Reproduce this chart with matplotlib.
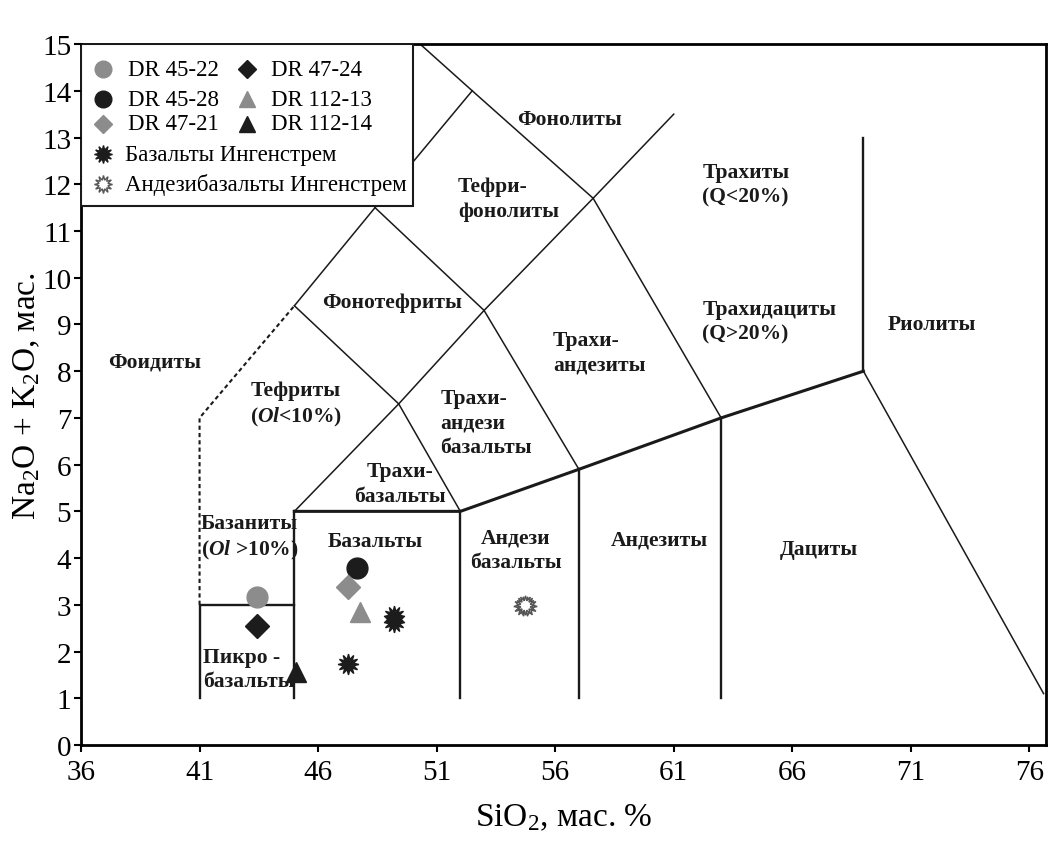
import matplotlib
matplotlib.use("Agg")
import matplotlib.pyplot as plt
from matplotlib.patches import Rectangle

plt.rcParams['font.family'] = ['Liberation Serif', 'DejaVu Serif']
plt.rcParams['mathtext.fontset'] = 'custom'
plt.rcParams['mathtext.rm'] = 'Liberation Serif'
plt.rcParams['mathtext.it'] = 'Liberation Serif:italic:bold'
plt.rcParams['mathtext.bf'] = 'Liberation Serif:bold'

# samples (SiO2, Na2O+K2O)
dr_names = ["DR 45-22", "DR 45-28", "DR 47-21", "DR 47-24", "DR 112-13", "DR 112-14"]
dr_x = [43.43, 47.65, 47.27, 43.43, 47.77, 45.07]
dr_y = [3.17, 3.79, 3.38, 2.55, 2.85, 1.56]
dr_marker = ["o", "o", "D", "D", "^", "^"]
dr_color = ["#8c8c8c", "#1c1c1c", "#8c8c8c", "#1c1c1c", "#8c8c8c", "#1c1c1c"]

bas_x = [49.2, 49.2, 47.27]
bas_y = [2.76, 2.64, 1.73]
andbas_x = [54.64, 54.82, 54.73]
andbas_y = [2.97, 2.97, 3.0]

# TAS field boundaries
thick_lines = [
    [(45, 5), (52, 5), (57, 5.9), (63, 7), (69, 8)],
]
mid_lines = [
    [(41, 1), (41, 3), (45, 3)],
    [(45, 1), (45, 5)],
    [(52, 1), (52, 5)],
    [(57, 1), (57, 5.9)],
    [(63, 1), (63, 7)],
    [(69, 8), (69, 13)],
]
thin_lines = [
    [(69, 8), (76.6, 1.1)],
    [(45, 5), (49.4, 7.3), (53, 9.3), (57.6, 11.7), (61, 13.5)],
    [(45, 9.4), (49.4, 7.3), (52, 5)],
    [(45, 9.4), (48.4, 11.5), (52.5, 14)],
    [(48.4, 11.5), (53, 9.3), (57, 5.9)],
    [(50.3, 15), (52.5, 14), (57.6, 11.7), (63, 7)],
]
dashed_lines = [
    [(41, 3), (41, 7), (45, 9.4)],
]

labels = [
    (39.1, 8.2, "Фоидиты", "center"),
    (49.1, 9.47, "Фонотефриты", "center"),
    (45.05, 7.3, "Тефриты\n($Ol$<10%)", "center"),
    (49.45, 5.6, "Трахи-\nбазальты", "center"),
    (51.15, 6.9, "Трахи-\nандези\nбазальты", "left"),
    (55.9, 8.4, "Трахи-\nандезиты", "left"),
    (51.9, 11.7, "Тефри-\nфонолиты", "left"),
    (56.6, 13.4, "Фонолиты", "center"),
    (62.2, 12.0, "Трахиты\n(Q<20%)", "left"),
    (62.2, 9.06, "Трахидациты\n(Q>20%)", "left"),
    (71.9, 9.0, "Риолиты", "center"),
    (54.35, 4.17, "Андези\nбазальты", "center"),
    (60.4, 4.4, "Андезиты", "center"),
    (67.1, 4.2, "Дациты", "center"),
    (48.4, 4.37, "Базальты", "center"),
    (41.05, 4.45, "Базаниты\n($Ol$ >10%)", "left"),
    (41.15, 1.63, "Пикро -\nбазальты", "left"),
]

fig = plt.figure(figsize=(10.59, 8.53), dpi=100)
ax = fig.add_axes([0.0765, 0.1254, 0.9112, 0.8218])

def draw(lines, lw, ls="-"):
    for pl in lines:
        xs = [p[0] for p in pl]
        ys = [p[1] for p in pl]
        ax.plot(xs, ys, color="#1a1a1a", lw=lw, ls=ls, zorder=2)

draw(thick_lines, 2.2)
draw(mid_lines, 1.7)
draw(thin_lines, 1.1)
draw(dashed_lines, 1.5, (0, (2, 1.5)))

for x, y, t, ha in labels:
    ax.text(x, y, t, ha=ha, va="center", fontsize=15.5, fontweight="bold",
            color="#1a1a1a", linespacing=1.3, zorder=3)

for i in range(len(dr_names)):
    ax.plot(dr_x[i], dr_y[i], marker=dr_marker[i], ms=15 if dr_marker[i] != "D" else 12,
            color=dr_color[i], ls="none", zorder=4)
ax.plot(bas_x, bas_y, marker=(12, 1, 0), ms=15, color="#1c1c1c", ls="none", zorder=4)
ax.plot(andbas_x, andbas_y, marker=(12, 1, 0), ms=14, mfc="white", mec="#555555",
        mew=1.0, ls="none", zorder=4)

ax.set_xlim(36, 76.7)
ax.set_ylim(0, 15)
ax.set_xticks(range(36, 77, 5))
ax.set_yticks(range(0, 16))
ax.tick_params(direction="out", length=5, width=1.5, labelsize=21)
ax.tick_params(axis="x", pad=5)
ax.tick_params(axis="y", pad=2)
for s in ax.spines.values():
    s.set_linewidth(2)
ax.set_xlabel("SiO$_2$, мас. %", fontsize=24, labelpad=12)
ax.set_ylabel("Na$_2$O + K$_2$O, мас.", fontsize=24, labelpad=0)

# legend box drawn by hand to keep the original layout
ax.add_patch(Rectangle((0, 0.769), 0.344, 0.231, transform=ax.transAxes,
                       facecolor="white", edgecolor="#1a1a1a", lw=1.5, zorder=5))
leg_rows = [0.964, 0.921, 0.886]
for i in range(3):
    ax.plot(0.023, leg_rows[i], marker=dr_marker[i], ms=12 if dr_marker[i] != "D" else 9.5,
            color=dr_color[i], transform=ax.transAxes, zorder=6, clip_on=False)
    ax.text(0.049, leg_rows[i], dr_names[i], transform=ax.transAxes, fontsize=16.5,
            va="center", zorder=6)
    ax.plot(0.172, leg_rows[i], marker=dr_marker[i + 3], ms=12 if dr_marker[i + 3] != "D" else 9.5,
            color=dr_color[i + 3], transform=ax.transAxes, zorder=6, clip_on=False)
    ax.text(0.197, leg_rows[i], dr_names[i + 3], transform=ax.transAxes, fontsize=16.5,
            va="center", zorder=6)
ax.plot(0.023, 0.843, marker=(12, 1, 0), ms=13, color="#1c1c1c",
        transform=ax.transAxes, zorder=6)
ax.text(0.046, 0.843, "Базальты Ингенстрем", transform=ax.transAxes, fontsize=16.5,
        va="center", zorder=6)
ax.plot(0.023, 0.800, marker=(12, 1, 0), ms=13, mfc="white", mec="#555555", mew=1.0,
        transform=ax.transAxes, zorder=6)
ax.text(0.046, 0.800, "Андезибазальты Ингенстрем", transform=ax.transAxes, fontsize=16.5,
        va="center", zorder=6)

fig.savefig("out.png", dpi=100)
